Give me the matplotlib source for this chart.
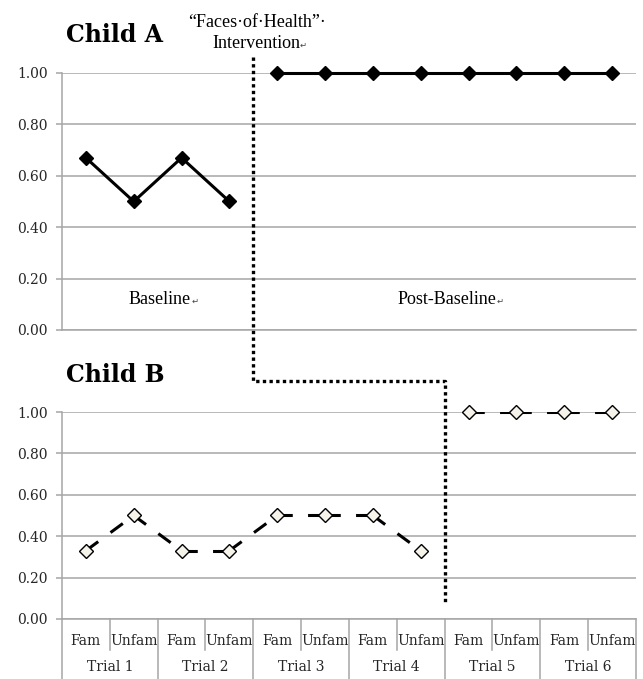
import matplotlib
matplotlib.use("Agg")
import matplotlib.pyplot as plt
from matplotlib import transforms
from matplotlib.lines import Line2D

# data
categories = ["Fam", "Unfam"] * 6
trials = ["Trial 1", "Trial 2", "Trial 3", "Trial 4", "Trial 5", "Trial 6"]
child_a_base = [0.67, 0.50, 0.67, 0.50]
child_a_post = [1.00, 1.00, 1.00, 1.00, 1.00, 1.00, 1.00, 1.00]
child_b_base = [0.33, 0.50, 0.33, 0.33, 0.50, 0.50, 0.50, 0.33]
child_b_post = [1.00, 1.00, 1.00, 1.00]
yticks = [0.0, 0.2, 0.4, 0.6, 0.8, 1.0]

GRID = "#a6a6a6"
TICK_FONT = "DejaVu Serif"
ANNOT_FONT = ["Liberation Serif", "DejaVu Serif"]

fig = plt.figure(figsize=(6.43, 6.79), dpi=100)
ax_a = fig.add_axes([0.0964, 0.514, 0.8926, 0.3785])
ax_b = fig.add_axes([0.0964, 0.0884, 0.8926, 0.3048])


def style_axes(ax):
    ax.set_xlim(-0.5, len(categories) - 0.5)
    ax.set_ylim(0, 1)
    ax.set_yticks(yticks)
    ax.set_yticklabels([f"{v:.2f}" for v in yticks], fontfamily=TICK_FONT,
                       fontsize=10, color="#262626")
    for s in ["top", "right"]:
        ax.spines[s].set_visible(False)
    for s in ["left", "bottom"]:
        ax.spines[s].set_color(GRID)
        ax.spines[s].set_linewidth(1.1)
    ax.tick_params(axis="y", length=4, width=1.1, color=GRID, pad=6)
    ax.grid(axis="y", color=GRID, linewidth=1.1)
    ax.set_axisbelow(True)


style_axes(ax_a)
style_axes(ax_b)

# Child A
xa_base = list(range(len(child_a_base)))
xa_post = list(range(len(child_a_base), len(child_a_base) + len(child_a_post)))
for xs, ys in [(xa_base, child_a_base), (xa_post, child_a_post)]:
    ax_a.plot(xs, ys, color="black", lw=2.2, marker="D", ms=7.5,
              mfc="black", mec="black", clip_on=False, zorder=3)
ax_a.set_xticks([])

# Child B - dash pattern restarts on every segment, like the original
xb_base = list(range(len(child_b_base)))
xb_post = list(range(len(child_b_base), len(child_b_base) + len(child_b_post)))
for xs, ys in [(xb_base, child_b_base), (xb_post, child_b_post)]:
    for k in range(len(xs) - 1):
        ax_b.plot(xs[k:k + 2], ys[k:k + 2], color="black", lw=2.2,
                  linestyle=(0, (5, 5)), dash_capstyle="butt", zorder=2)
    ax_b.plot(xs, ys, linestyle="none", marker="D", ms=7.5, mfc="#f6f4ea",
              mec="black", mew=1.0, clip_on=False, zorder=3)

# two level category axis
ax_b.set_xticks(range(len(categories)))
ax_b.set_xticklabels(categories, fontfamily=TICK_FONT, fontsize=10, color="#262626")
ax_b.tick_params(axis="x", length=0, pad=11)
blend_b = transforms.blended_transform_factory(ax_b.transData, ax_b.transAxes)
sub_depth = -31 / 207
full_depth = -60 / 207
for i in range(len(trials)):
    ax_b.plot([2 * i + 0.5] * 2, [0, sub_depth], color=GRID, lw=1.1,
              transform=blend_b, clip_on=False)
    ax_b.text(2 * i + 0.5, -48 / 207, trials[i], transform=blend_b,
              ha="center", va="center", fontfamily=TICK_FONT, fontsize=10,
              color="#262626")
for i in range(len(trials) + 1):
    ax_b.plot([2 * i - 0.5] * 2, [0, full_depth], color=GRID, lw=1.1,
              transform=blend_b, clip_on=False)

# titles
fig.text(0.103, 0.949, "Child A", fontfamily="DejaVu Serif", fontweight="bold",
         fontsize=17, va="center", ha="left")
fig.text(0.103, 0.447, "Child B", fontfamily="DejaVu Serif", fontweight="bold",
         fontsize=17, va="center", ha="left")

renderer = fig.canvas.get_renderer()


def word_text(x, y, s, mark, transform):
    # text with a small word-processor mark glued to its right end
    t = fig.text(x, y, s, ha="center", va="center", fontfamily=ANNOT_FONT,
                 fontsize=13, transform=transform)
    bb = t.get_window_extent(renderer)
    fig.text(bb.x1 / fig.bbox.width, (bb.y0 + 2) / fig.bbox.height, mark,
             ha="left", va="bottom", fontfamily=["DejaVu Sans"], fontsize=6,
             color="#444444")


# phase labels
word_text(1.55, 0.12, "Baseline", "\u21b5", ax_a.transData)
word_text(7.55, 0.12, "Post-Baseline", "\u21b5", ax_a.transData)
fig.text(0.400, 0.967, "\u201cFaces\u00b7of\u00b7Health\u201d\u00b7", ha="center",
         va="center", fontfamily=ANNOT_FONT, fontsize=13)
word_text(0.398, 0.936, "Intervention", "\u21b5", fig.transFigure)

# intervention step line
blend_f = transforms.blended_transform_factory(ax_a.transData, fig.transFigure)
y_top, y_step, y_end = 1 - 57 / 679, 1 - 381 / 679, 1 - 603 / 679
step = Line2D([3.5, 3.5, 7.5, 7.5], [y_top, y_step, y_step, y_end],
              transform=blend_f, color="black", lw=2.4,
              linestyle=(0, (1, 1)), dash_capstyle="butt", zorder=5)
fig.add_artist(step)

fig.savefig("out.png", dpi=100)
